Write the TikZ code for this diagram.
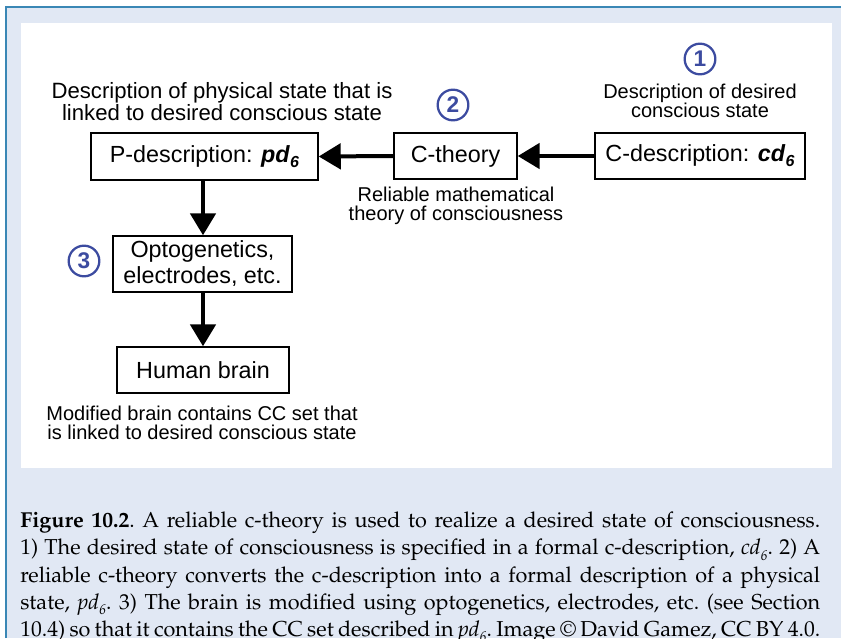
\documentclass[tikz,border=0pt]{standalone}
\usepackage[T1]{fontenc}
\usepackage{fontspec}
\setmainfont{Liberation Sans}
\usetikzlibrary{arrows.meta}
\definecolor{panelblue}{HTML}{E1E8F4}
\definecolor{edgeblue}{HTML}{3A87B5}
\definecolor{numblue}{HTML}{3C4BA0}
\newcommand{\capfont}{\fontencoding{T1}\fontfamily{ppl}\selectfont}
\newcommand{\capsub}{\raisebox{-0.55ex}{\fontsize{10.5}{10.5}\selectfont\textit{6}}}
\newcommand{\boxsub}{\raisebox{-0.4ex}{\fontsize{12}{12}\selectfont\textbf{\textit{6}}}}
\tikzset{
  boxnode/.style={draw, line width=1.1pt, inner sep=0pt, align=center,
    font=\fontsize{17.5}{19.5}\selectfont},
  labelnode/.style={inner sep=0pt, align=center, font=\fontsize{15}{14.5}\selectfont},
  numnode/.style={circle, draw=numblue, line width=1.7pt, text=numblue, inner sep=0pt,
    minimum size=23pt, font=\bfseries\fontsize{17}{17}\selectfont},
  arr/.style={line width=3pt, -{Triangle[length=16.5pt,width=19pt]}}
}
\begin{document}
\begin{tikzpicture}[x=0.75pt,y=-0.75pt]
\useasboundingbox (0,0) rectangle (841,638);
\fill[panelblue] (6,7) rectangle (841,638);
\draw[edgeblue, line width=1.5pt] (6,638) -- (6,7) -- (841,7);
\fill[white] (21,23) rectangle (832,468);

\node[boxnode, minimum width=170.25pt, minimum height=35.25pt] (pdesc) at (204.5,156.5)
  {P-description: \textbf{\textit{pd}}\boxsub};
\node[boxnode, minimum width=92.25pt, minimum height=34.5pt] (ctheory) at (455.5,156) {C-theory};
\node[boxnode, minimum width=157.5pt, minimum height=34.5pt] (cdesc) at (700,156)
  {C-description: \textbf{\textit{cd}}\boxsub};
\node[boxnode, minimum width=134.25pt, minimum height=42pt] (opto) at (202.5,264)
  {\raisebox{-3pt}{\parbox{134pt}{\centering Optogenetics,\\electrodes, etc.}}};
\node[boxnode, minimum width=129pt, minimum height=34.5pt] (brain) at (203,370) {Human brain};

\node[numnode] (n1) at (700,59) {1};
\node[numnode] (n2) at (453,105) {2};
\node[numnode] (n3) at (84,261) {3};

\node[labelnode, font=\fontsize{16.6}{14}\selectfont] (l1) at (222,102) {Description of physical state that is\\linked to desired conscious state};
\node[labelnode] (l2) at (700,101) {Description of desired\\conscious state};
\node[labelnode] (l3) at (456,206) {Reliable mathematical\\theory of consciousness};
\node[labelnode] (l4) at (202,423) {Modified brain contains CC set that\\is linked to desired conscious state};

\draw[arr] (cdesc.west) -- (ctheory.east);
\draw[arr] (ctheory.west) -- (pdesc.east);
\draw[arr] (pdesc.south -| 203,0) -- (opto.north -| 203,0);
\draw[arr] (opto.south -| 203,0) -- (brain.north -| 203,0);

\node[anchor=north west, inner sep=0pt, text width=600pt, align=justify,
  font=\capfont] (cap) at (20,512)
{\fontsize{16.2}{20.3}\selectfont\baselineskip=20.3pt\frenchspacing\parfillskip=0pt
\textbf{Figure 10.2}. A reliable c-theory is used to realize a desired state of consciousness.\linebreak
1) The desired state of consciousness is specified in a formal c-description, \textit{cd}\capsub. 2) A\linebreak
reliable c-theory converts the c-description into a formal description of a physical\linebreak
state, \textit{pd}\capsub. 3) The brain is modified using optogenetics, electrodes, etc. (see Section\linebreak
10.4) so that it contains the CC set described in \textit{pd}\capsub. Image \textcopyright\ David Gamez, CC BY 4.0.\par};
\end{tikzpicture}
\end{document}
